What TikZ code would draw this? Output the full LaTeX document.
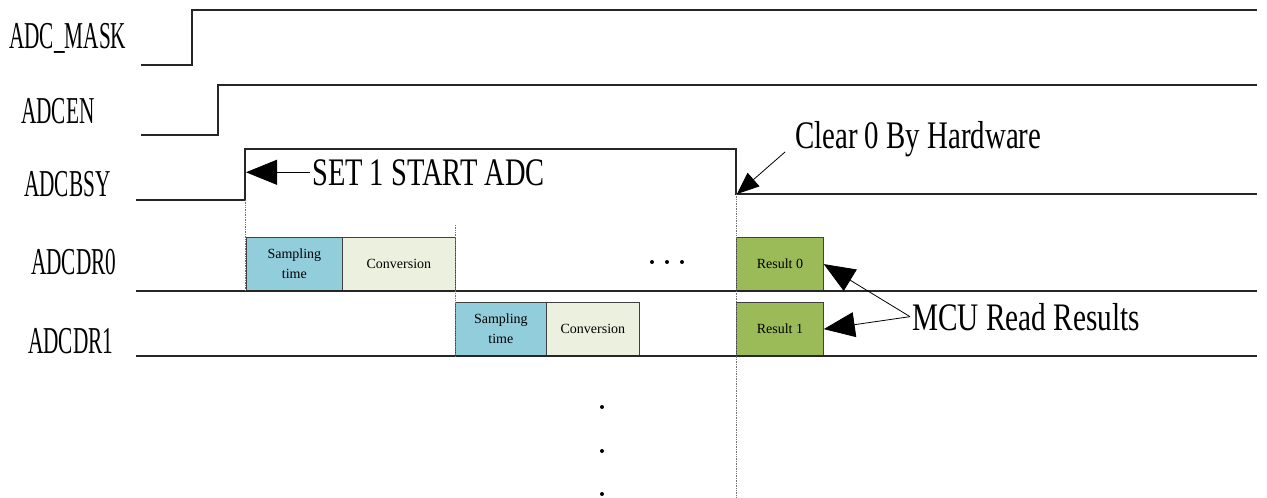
\documentclass[tikz,border=0pt]{standalone}
\usepackage{fontspec}
\setmainfont{Liberation Serif}
\usetikzlibrary{arrows.meta,positioning,calc}
\definecolor{sampblue}{HTML}{92CDDC}
\definecolor{convgreen}{HTML}{EBF1DE}
\definecolor{resgreen}{HTML}{9BBB59}
\newcommand{\narrow}[2]{\scalebox{#1}[1]{#2}}

\begin{document}
\begin{tikzpicture}[x=1pt, y=-1pt, >={Triangle[length=31pt,width=25pt]},
  sig/.style={font=\fontsize{38}{40}\selectfont, anchor=base west, inner sep=0pt},
  wave/.style={line width=1.1pt, draw=black!85},
  cell/.style={draw=black!75, line width=0.8pt, anchor=south west, inner sep=0pt,
    minimum height=53pt, align=center, font=\fontsize{14}{20}\selectfont},
  note/.style={font=\fontsize{39}{40}\selectfont, anchor=base west, inner sep=2pt},
  guide/.style={densely dotted, draw=black!55, line width=0.7pt},
  dotmark/.style={circle, fill=black, inner sep=0pt, minimum size=4pt}]

  \useasboundingbox (0,0) rectangle (1267,498);

  % Define nodes
  \node[sig] (mask) at (9,48) {\narrow{0.56}{ADC\_MASK}};
  \node[sig] (en) at (21,123) {\narrow{0.56}{ADCEN}};
  \node[sig] (bsy) at (24,196) {\narrow{0.56}{ADCBSY}};
  \node[sig] (dr0) at (31,274) {\narrow{0.56}{ADCDR0}};
  \node[sig] (dr1) at (28,353) {\narrow{0.56}{ADCDR1}};

  \node[cell, fill=sampblue, minimum width=96pt] (s0) at (246,291) {Sampling\\time};
  \node[cell, fill=convgreen, minimum width=113pt] (c0) at (342,291) {Conversion};
  \node[cell, fill=sampblue, minimum width=91pt] (s1) at (455,356) {Sampling\\time};
  \node[cell, fill=convgreen, minimum width=93pt] (c1) at (546,356) {Conversion};
  \node[cell, fill=resgreen, minimum width=87pt] (r0) at (736,291) {Result 0};
  \node[cell, fill=resgreen, minimum width=87pt] (r1) at (736,356) {Result 1};

  \node[note] (set) at (310,185) {\narrow{0.73}{SET 1 START ADC}};
  \node[note] (clear) at (793,148) {\narrow{0.74}{Clear 0 By Hardware}};
  \node[note] (mcu) at (910,330) {\narrow{0.75}{MCU Read Results}};

  \coordinate (bsyrise) at (246,149);
  \coordinate (clrtail) at (785,152);
  \coordinate (clrhead) at (737,194);

  % Draw waveforms
  \draw[wave] (141,65) -- (192,65) -- (192,10) -- (1257,10);
  \draw[wave] (141,135) -- (218,135) -- (218,85) -- (1257,85);
  \draw[wave] (136,200) -- (245,200) -- (245,149) -- (736,149) -- (736,194) -- (1257,194);
  \draw[wave] (136,291) -- (1257,291);
  \draw[wave] (136,356) -- (1257,356);

  % Dotted guides
  \draw[guide] (245,200) -- (245,291);
  \draw[guide] (455,225) -- (455,356);
  \draw[guide] (736,194) -- (736,498);

  \foreach \x in {652,667,682} \node[dotmark] at (\x,262) {};
  \foreach \y in {407,451,494} \node[dotmark] at (602,\y) {};

  % Draw arrows
  \draw[->, line width=0.8pt] (set.west) -- (set.west -| bsyrise);
  \draw[-{Triangle[length=22pt,width=18pt]}, line width=0.8pt] (clrtail) -- (clrhead);
  \draw[->, line width=0.8pt] (mcu.west) -- (r0.east);
  \draw[->, line width=0.8pt] (mcu.west) -- (r1.east);
\end{tikzpicture}
\end{document}
